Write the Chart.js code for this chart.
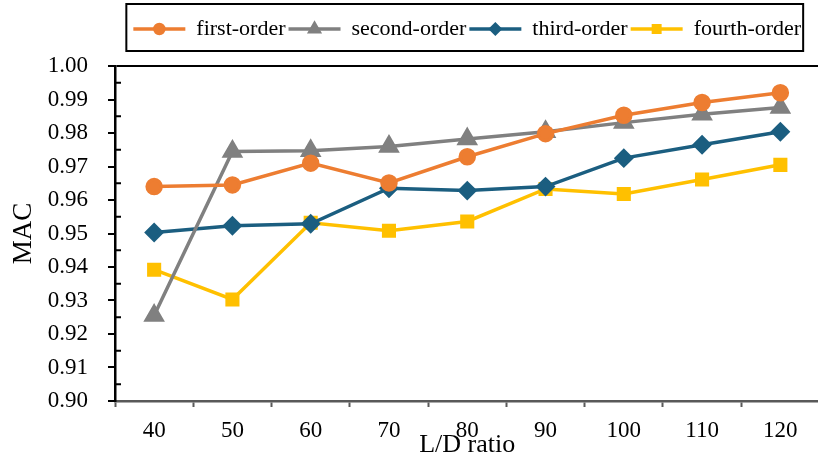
<!DOCTYPE html>
<html>
<head>
<meta charset="utf-8">
<script src="https://cdn.jsdelivr.net/npm/chart.js@4.4.1/dist/chart.umd.min.js"></script>
<style>
  html, body { margin: 0; padding: 0; overflow: hidden; background: #fff; }
  #wrap { width: 832px; height: 461px; }
</style>
</head>
<body>
<div id="wrap"><canvas id="ChartMac"></canvas></div>
<script>
const ratios = ['40', '50', '60', '70', '80', '90', '100', '110', '120'];
const firstOrder  = [0.9640, 0.9645, 0.9710, 0.9651, 0.9729, 0.9798, 0.9853, 0.9891, 0.9920];
const secondOrder = [0.9255, 0.9745, 0.9747, 0.9760, 0.9782, 0.9804, 0.9831, 0.9856, 0.9876];
const thirdOrder  = [0.9503, 0.9523, 0.9529, 0.9635, 0.9628, 0.9640, 0.9725, 0.9765, 0.9804];
const fourthOrder = [0.9392, 0.9303, 0.9532, 0.9508, 0.9536, 0.9633, 0.9618, 0.9661, 0.9705];

const serif = 'Liberation Serif';

// legend needs some room below it before the plot starts
const legendRoom = {
    id: 'legendRoom',
    beforeInit(chart) {
        const fit = chart.legend.fit;
        chart.legend.fit = function () {
            fit.bind(chart.legend)();
            this.height += 16;
        };
    }
};

// box round the legend, markers on the line samples, minor ticks inside the y axis
const extras = {
    id: 'extras',
    afterDraw(chart) {
        const ctx = chart.ctx;
        const boxes = chart.legend.legendHitBoxes;
        const first = boxes[0], last = boxes[boxes.length - 1];
        const cy = first.top + first.height / 2;
        ctx.save();
        ctx.strokeStyle = '#000';
        ctx.lineWidth = 2;
        ctx.strokeRect(first.left - 7, cy - 25, last.left + last.width - first.left + 9, 47);
        chart.data.datasets.forEach((ds, i) => {
            const b = boxes[i];
            ctx.fillStyle = ds.borderColor;
            ctx.strokeStyle = ds.borderColor;
            Chart.helpers.drawPoint(ctx, {
                pointStyle: ds.pointStyle, radius: ds.pointRadius * 0.75,
                rotation: 0, borderWidth: 1
            }, b.left + 26, b.top + b.height / 2);
        });
        const y = chart.scales.y;
        ctx.strokeStyle = '#000';
        ctx.lineWidth = 2;
        for (let k = 0; k < y.ticks.length - 1; k++) {
            const py = y.getPixelForValue((y.ticks[k].value + y.ticks[k + 1].value) / 2);
            ctx.beginPath();
            ctx.moveTo(y.right, py);
            ctx.lineTo(y.right + 6, py);
            ctx.stroke();
        }
        ctx.restore();
    }
};

new Chart(document.getElementById('ChartMac').getContext('2d'), {
    type: 'line',
    data: {
        labels: ratios,
        datasets: [{
            label: 'first-order',
            data: firstOrder,
            borderColor: '#ED7D31',
            backgroundColor: '#ED7D31',
            borderWidth: 3.5,
            pointStyle: 'circle',
            pointRadius: 7
        }, {
            label: 'second-order',
            data: secondOrder,
            borderColor: '#808080',
            backgroundColor: '#808080',
            borderWidth: 3.5,
            pointStyle: 'triangle',
            pointRadius: 9
        }, {
            label: 'third-order',
            data: thirdOrder,
            borderColor: '#1B5E80',
            backgroundColor: '#1B5E80',
            borderWidth: 3.5,
            pointStyle: 'rectRot',
            pointRadius: 7.5
        }, {
            label: 'fourth-order',
            data: fourthOrder,
            borderColor: '#FFC000',
            backgroundColor: '#FFC000',
            borderWidth: 3.5,
            pointStyle: 'rect',
            pointRadius: 7.5
        }]
    },
    options: {
        responsive: true,
        maintainAspectRatio: false,
        animation: false,
        elements: {
            line: { tension: 0 },
            point: { borderWidth: 0 }
        },
        layout: { padding: { top: 15, right: 3, bottom: 0, left: 0 } },
        plugins: {
            tooltip: { enabled: false },
            legend: {
                position: 'top',
                fullSize: false,
                labels: {
                    usePointStyle: true,
                    pointStyle: 'line',
                    pointStyleWidth: 52,
                    padding: 3,
                    color: '#000',
                    font: { family: serif, size: 22 }
                }
            }
        },
        scales: {
            x: {
                offset: true,
                grid: {
                    offset: true,
                    drawOnChartArea: false,
                    tickLength: 6,
                    tickWidth: 2,
                    tickColor: '#595959'
                },
                border: { color: '#595959', width: 2.5 },
                ticks: {
                    color: '#000',
                    padding: 10,
                    maxRotation: 0,
                    font: { family: serif, size: 23 }
                },
                title: {
                    display: true,
                    text: 'L/D ratio',
                    color: '#000',
                    padding: { top: 0, bottom: 0 },
                    font: { family: serif, size: 26 }
                },
                afterFit(scale) { scale.height = 60; }
            },
            y: {
                min: 0.9,
                max: 1.0,
                ticks: {
                    stepSize: 0.01,
                    color: '#000',
                    padding: 20,
                    font: { family: serif, size: 23 },
                    callback: (v) => Number(v).toFixed(2)
                },
                grid: {
                    color: (c) => (c.tick && c.tick.value >= 0.9999 ? '#000' : 'rgba(0,0,0,0)'),
                    lineWidth: 2,
                    tickLength: 7,
                    tickWidth: 2,
                    tickColor: '#000'
                },
                border: { color: '#000', width: 2.5 },
                title: {
                    display: true,
                    text: 'MAC',
                    color: '#000',
                    padding: { top: 8, bottom: 0 },
                    font: { family: serif, size: 27 }
                },
                afterFit(scale) { scale.width = 115; }
            }
        }
    },
    plugins: [legendRoom, extras]
});
</script>
</body>
</html>
